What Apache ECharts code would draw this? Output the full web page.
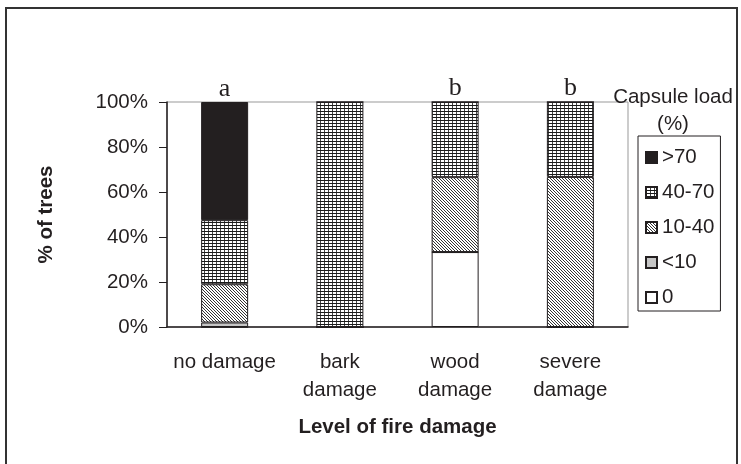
<!DOCTYPE html>
<html>
<head>
<meta charset="utf-8">
<script src="https://cdn.jsdelivr.net/npm/echarts@6/dist/echarts.min.js"></script>
<style>
  html, body { margin: 0; padding: 0; background: #fff; }
  #chart { width: 741px; height: 464px; }
</style>
</head>
<body>
<div id="chart"></div>
<script>
// data (percent of trees per capsule load class)
const categories = ['no damage', 'bark\ndamage', 'wood\ndamage', 'severe\ndamage'];
const load0 = [0, 0, 33.3, 0];
const loadUnder10 = [2, 0, 0, 0];
const load10to40 = [17, 0, 33.3, 66.7];
const load40to70 = [28.5, 100, 33.4, 33.3];
const loadOver70 = [52.5, 0, 0, 0];
const sigLetters = ['a', '', 'b', 'b'];
const legendOrder = ['>70', '40-70', '10-40', '<10', '0'];

const textColor = '#231f20';
const sans = 'Liberation Sans, Arial, sans-serif';
const fs = 20.5;

// small canvas tiles for the hatch fills
function makeTile(w, h, draw) {
  const c = document.createElement('canvas');
  c.width = w;
  c.height = h;
  const ctx = c.getContext('2d');
  ctx.fillStyle = '#fff';
  ctx.fillRect(0, 0, w, h);
  draw(ctx);
  return c;
}

// 40-70: fine grid
const gridTile = makeTile(4, 3, ctx => {
  ctx.fillStyle = '#444';
  ctx.fillRect(0, 0, 1, 3);
  ctx.fillStyle = '#1a1a1a';
  ctx.fillRect(0, 0, 4, 1);
});

// 10-40: diagonal hatch
const diagTile = makeTile(3, 3, ctx => {
  ctx.fillStyle = '#333';
  for (let i = 0; i < 3; i++) ctx.fillRect(i, i, 1, 1);
});

const chart = echarts.init(document.getElementById('chart'));

const barBase = {
  type: 'bar',
  stack: 'total',
  barWidth: 47,
  itemStyle: { borderColor: '#231f20', borderWidth: 1 },
};

const option = {
  animation: false,
  backgroundColor: '#fff',
  textStyle: { fontFamily: sans, color: textColor },
  graphic: [
    {
      type: 'rect',
      shape: { x: 6, y: 8, width: 731, height: 470 },
      style: { fill: 'none', stroke: '#333', lineWidth: 2 },
      silent: true,
    },
  ],
  title: {
    text: 'Capsule load\n(%)',
    left: 668,
    top: 79,
    textAlign: 'center',
    textStyle: {
      fontFamily: sans,
      fontSize: fs,
      fontWeight: 'normal',
      color: textColor,
      lineHeight: 27,
    },
  },
  legend: {
    data: legendOrder,
    orient: 'vertical',
    left: 638,
    top: 136,
    icon: 'rect',
    itemWidth: 11,
    itemHeight: 11,
    itemGap: 14,
    padding: [11, 6, 3, 7],
    borderColor: '#231f20',
    borderWidth: 1,
    textStyle: { fontFamily: sans, fontSize: fs, color: textColor, lineHeight: 20, padding: [0, 0, 0, 0] },
  },
  grid: {
    left: 167,
    right: 113,
    top: 102,
    bottom: 137,
    show: true,
    borderColor: '#999',
    borderWidth: 1,
  },
  xAxis: {
    type: 'category',
    data: categories,
    name: 'Level of fire damage',
    nameLocation: 'middle',
    nameGap: 90,
    nameTextStyle: { fontFamily: sans, fontSize: fs, fontWeight: 'bold', color: textColor },
    axisLine: { lineStyle: { color: '#231f20', width: 1.5 } },
    axisTick: { show: false },
    axisLabel: { interval: 0, fontFamily: sans, fontSize: fs, color: textColor, lineHeight: 28, margin: 21 },
  },
  yAxis: {
    type: 'value',
    min: 0,
    max: 100,
    interval: 20,
    name: '% of trees',
    nameLocation: 'middle',
    nameRotate: 90,
    nameGap: 110,
    nameTextStyle: { fontFamily: sans, fontSize: fs, fontWeight: 'bold', color: textColor },
    axisLine: { show: true, lineStyle: { color: '#231f20', width: 1.5 } },
    axisTick: { show: true, length: 8, lineStyle: { color: '#231f20' } },
    splitLine: { show: false },
    axisLabel: { fontFamily: sans, fontSize: fs, color: textColor, margin: 19, formatter: '{value}%' },
  },
  series: [
    { ...barBase, name: '0', data: load0, itemStyle: { ...barBase.itemStyle, color: '#fff' } },
    { ...barBase, name: '<10', data: loadUnder10, itemStyle: { ...barBase.itemStyle, color: '#c6c6c6' } },
    {
      ...barBase,
      name: '10-40',
      data: load10to40,
      itemStyle: { ...barBase.itemStyle, color: { image: diagTile, repeat: 'repeat' } },
    },
    {
      ...barBase,
      name: '40-70',
      data: load40to70,
      itemStyle: { ...barBase.itemStyle, color: { image: gridTile, repeat: 'repeat' } },
    },
    {
      ...barBase,
      name: '>70',
      data: loadOver70,
      itemStyle: { ...barBase.itemStyle, color: '#231f20' },
      label: {
        show: true,
        position: 'top',
        distance: 0,
        formatter: p => sigLetters[p.dataIndex],
        fontFamily: 'Liberation Serif, Times New Roman, serif',
        fontSize: 26,
        color: textColor,
      },
    },
  ],
};

chart.setOption(option);
</script>
</body>
</html>
